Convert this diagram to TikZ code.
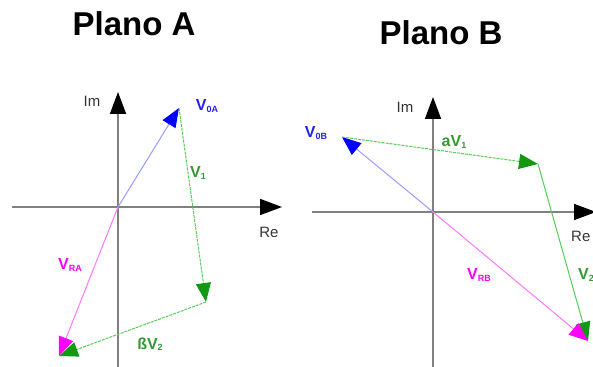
\documentclass[tikz,border=0pt]{standalone}
\usepackage{fontspec}
\setmainfont{Liberation Sans}
\usetikzlibrary{arrows.meta}
\definecolor{axgray}{HTML}{808080}
\definecolor{vblue}{HTML}{2222EE}
\definecolor{lblue}{HTML}{9A9AFF}
\definecolor{vgreen}{HTML}{119911}
\definecolor{lgreen}{HTML}{55CC55}
\definecolor{tgreen}{HTML}{339933}
\definecolor{vmag}{HTML}{FF00FF}
\definecolor{lmag}{HTML}{FF77FF}
\newcommand{\sbx}[1]{\raisebox{-1.5pt}{\fontsize{9}{10}\selectfont #1}}
\begin{document}
\begin{tikzpicture}[x=1pt,y=-1pt,
  axis/.style={draw=axgray,line width=1.6pt,-{Triangle[length=22pt,width=16pt,color=black]}},
  vecblue/.style={draw=lblue,line width=1pt,-{Triangle[length=19pt,width=15pt,color=blue]}},
  vecgreen/.style={draw=lgreen,line width=1pt,dash pattern=on 3pt off 1pt,-{Triangle[length=19pt,width=15pt,color=vgreen]}},
  vecgreensolid/.style={draw=lgreen,line width=1pt,-{Triangle[length=19pt,width=15pt,color=vgreen]}},
  vecmag/.style={draw=lmag,line width=1pt,-{Triangle[length=19pt,width=15pt,color=vmag]}},
  lbl/.style={font=\fontsize{16}{18}\selectfont\bfseries,inner sep=0pt},
  axlbl/.style={font=\fontsize{15}{17}\selectfont,inner sep=0pt,text=black!80},
  title/.style={font=\fontsize{33}{36}\selectfont\bfseries,inner sep=0pt}]
\useasboundingbox (0,0) rectangle (593,366);
\clip (0,0) rectangle (593,366);
% ---------- Plano A ----------
\node[title] (tA) at (134,24) {Plano A};
\coordinate (oA) at (118,207);
\coordinate (axAl) at (12,207);
\coordinate (axAr) at (282,207);
\coordinate (axAb) at (118,370);
\coordinate (axAt) at (118,92);
\draw[axis] (axAl) -- (axAr);
\draw[axis] (axAb) -- (axAt);
\node[axlbl] (imA) at (92,101) {Im};
\node[axlbl] (reA) at (269,232) {Re};
\coordinate (pA1) at (179,108);
\coordinate (pA2) at (206,302);
\coordinate (pA3) at (59,356);
\draw[vecblue] (oA) -- (pA1);
\draw[vecgreen] (pA1) -- (pA2);
\draw[vecgreen] (pA2) -- (pA3);
\draw[vecmag] (oA) -- (pA3);
\node[lbl,text=vblue] (lV0A) at (207,106) {V\sbx{0A}};
\node[lbl,text=tgreen] (lV1) at (198,173) {V\sbx{1}};
\node[lbl,text=tgreen] (lbV2) at (150,344) {ßV\sbx{2}};
\node[lbl,text=vmag] (lVRA) at (70,265) {V\sbx{RA}};
% ---------- Plano B ----------
\node[title] (tB) at (441,33) {Plano B};
\coordinate (oB) at (433,212);
\coordinate (axBl) at (312,212);
\coordinate (axBr) at (596,212);
\coordinate (axBb) at (433,370);
\coordinate (axBt) at (433,97);
\draw[axis] (axBl) -- (axBr);
\draw[axis] (axBb) -- (axBt);
\node[axlbl] (imB) at (405,107) {Im};
\node[axlbl,anchor=west] (reB) at (571,236) {Re};
\coordinate (pB1) at (342,137);
\coordinate (pB2) at (538,164);
\coordinate (pB3) at (588,341);
\draw[vecblue] (oB) -- (pB1);
\draw[vecgreen] (pB1) -- (pB2);
\draw[vecgreensolid] (pB2) -- (pB3);
\draw[vecmag] (oB) -- (pB3);
\node[lbl,text=vblue] (lV0B) at (316,133) {V\sbx{0B}};
\node[lbl,text=tgreen] (laV1) at (454,142) {aV\sbx{1}};
\node[lbl,text=tgreen,anchor=west] (lV2) at (578,275) {V\sbx{2}};
\node[lbl,text=vmag] (lVRB) at (479,275) {V\sbx{RB}};
\end{tikzpicture}
\end{document}
